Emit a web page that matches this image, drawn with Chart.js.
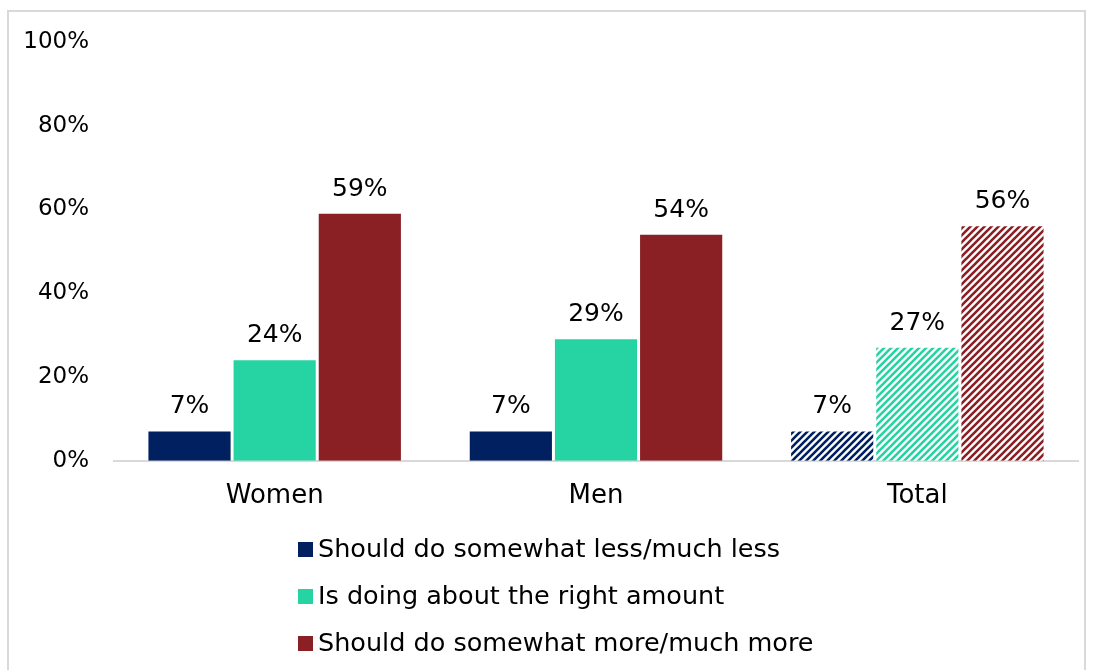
<!DOCTYPE html>
<html>
<head>
<meta charset="utf-8">
<script src="https://cdn.jsdelivr.net/npm/chart.js@4"></script>
<style>
  html, body { margin: 0; padding: 0; background: #fff; }
  #wrap { position: relative; width: 1095px; height: 670px; }
  #frame { position: absolute; left: 7px; top: 10px; width: 1079px; height: 670px; border: 2px solid #d9d9d9; box-sizing: border-box; }
  canvas { position: absolute; left: 0; top: 0; }
</style>
</head>
<body>
<div id="wrap">
  <div id="frame"></div>
  <canvas id="c" width="1095" height="670"></canvas>
</div>
<script>
const categories = ["Women", "Men", "Total"];
const seriesLabels = ["Should do somewhat less/much less", "Is doing about the right amount", "Should do somewhat more/much more"];
const lessValues = [7, 7, 7];
const rightValues = [24, 29, 27];
const moreValues = [59, 54, 56];
const yTicks = [0, 20, 40, 60, 80, 100];
const colors = ["#002060", "#26D3A3", "#8A1F24"];

const FONT = "'DejaVu Sans', sans-serif";

function makeHatch(color) {
  const s = 7;
  const c = document.createElement('canvas');
  c.width = s; c.height = s;
  const g = c.getContext('2d');
  g.fillStyle = '#ffffff';
  g.fillRect(0, 0, s, s);
  g.strokeStyle = color;
  g.lineWidth = 2.6;
  g.beginPath();
  g.moveTo(-s, s * 2); g.lineTo(s * 2, -s);
  g.moveTo(-s, s); g.lineTo(s, -s);
  g.moveTo(0, s * 2); g.lineTo(s * 2, 0);
  g.stroke();
  return g.createPattern(c, 'repeat');
}

const ctx = document.getElementById('c').getContext('2d');
const seriesValues = [lessValues, rightValues, moreValues];
const datasets = seriesValues.map((vals, i) => {
  const hatch = makeHatch(colors[i]);
  return {
    label: seriesLabels[i],
    data: vals,
    backgroundColor: vals.map((v, j) => categories[j] === "Total" ? hatch : colors[i]),
    borderWidth: 0,
    categoryPercentage: 0.795,
    barPercentage: 0.965
  };
});

const labelPlugin = {
  id: 'valueLabels',
  afterDatasetsDraw(chart) {
    const g = chart.ctx;
    g.save();
    g.font = "25px " + FONT;
    g.fillStyle = '#000';
    g.textAlign = 'center';
    g.textBaseline = 'bottom';
    chart.data.datasets.forEach((ds, i) => {
      chart.getDatasetMeta(i).data.forEach((bar, j) => {
        g.fillText(ds.data[j] + '%', bar.x, bar.y - 12);
      });
    });
    g.restore();
  }
};

const legendPlugin = {
  id: 'vertLegend',
  afterDraw(chart) {
    const g = chart.ctx;
    g.save();
    g.font = "25.5px " + FONT;
    g.textBaseline = 'middle';
    g.textAlign = 'left';
    const ys = [550, 597, 644];
    chart.data.datasets.forEach((ds, i) => {
      g.fillStyle = colors[i];
      g.fillRect(298, ys[i] - 8, 15, 15);
      g.fillStyle = '#000';
      g.fillText(ds.label, 318, ys[i]);
    });
    g.restore();
  }
};

new Chart(ctx, {
  type: 'bar',
  data: { labels: categories, datasets },
  options: {
    responsive: false,
    animation: false,
    layout: { padding: { left: 0, right: 17, top: 42, bottom: 146 } },
    plugins: { legend: { display: false }, tooltip: { enabled: false } },
    scales: {
      x: {
        grid: { display: false },
        border: { display: true, color: '#d9d9d9', width: 2 },
        ticks: { color: '#000', font: { family: FONT, size: 26 }, padding: 12 }
      },
      y: {
        min: 0, max: 100,
        afterFit(scale) { scale.width = 114; },
        afterBuildTicks(scale) { scale.ticks = yTicks.map(v => ({ value: v })); },
        grid: { display: false },
        border: { display: false },
        ticks: { color: '#000', font: { family: FONT, size: 23 }, padding: 17, callback: v => v + '%' }
      }
    }
  },
  plugins: [labelPlugin, legendPlugin]
});
</script>
</body>
</html>
